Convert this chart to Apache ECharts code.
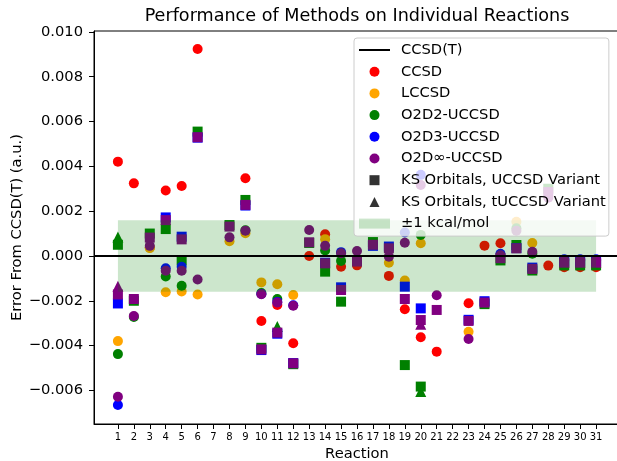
<!DOCTYPE html>
<html><head><meta charset="utf-8">
<script src="https://cdn.jsdelivr.net/npm/echarts@6/dist/echarts.min.js"></script>
<style>html,body{margin:0;padding:0;background:#fff}#c{width:617px;height:461px}</style>
</head><body><div id="c"></div>
<script>
const reactions = [1,2,3,4,5,6,7,8,9,10,11,12,13,14,15,16,17,18,19,20,21,22,23,24,25,26,27,28,29,30,31];
const yTicks = [-0.006,-0.004,-0.002,0,0.002,0.004,0.006,0.008,0.010];
const KCAL = 0.0015936;
const BAND_X = [1, 31];
const REF_LINE = 0;

// circles (canonical orbitals)
const ccsd   = [0.00421,0.00324,0.00038,0.00292,0.00312,0.00924,null,null,0.00347,-0.0029,-0.00219,-0.0039,0.0000,0.00097,-0.00048,-0.00042,null,-0.00089,-0.00238,-0.00363,-0.00427,null,-0.00211,0.00046,0.00057,null,null,-0.00043,-0.0005,-0.0005,-0.0005];
const lccsd  = [-0.0038,null,0.00035,-0.00162,-0.00159,-0.00172,null,0.00066,0.00101,-0.00118,-0.00126,-0.00174,null,0.00075,null,null,null,-0.0003,-0.0011,0.00057,null,null,-0.00338,null,null,0.00153,0.00058,null,null,null,null];
const o2d2   = [-0.00438,-0.00272,null,-0.00092,-0.00133,null,null,null,0.00115,-0.00165,-0.00192,null,null,0.00024,-0.00022,null,null,null,null,0.00094,null,null,null,null,null,0.00124,0.0001,null,null,null,null];
const o2d3   = [-0.00665,null,null,-0.00055,-0.00048,null,null,null,null,-0.0017,-0.00205,-0.0022,null,null,0.00017,null,null,null,0.00105,0.00362,null,null,null,null,0.0001,null,null,null,-0.00015,-0.00015,-0.00015];
const o2dinf = [-0.00628,-0.00268,0.00045,-0.00066,-0.00066,-0.00105,null,0.00083,0.00113,-0.00171,-0.00208,-0.00222,0.00116,0.00045,0.00012,0.00022,null,-0.00003,0.00059,0.00317,-0.00175,null,-0.00371,null,0.00003,0.00113,0.00019,0.0026,-0.0002,-0.0002,-0.0002];

// squares (KS orbitals, UCCSD variant)
const o2d2Sq   = [0.0005,-0.002,0.001,0.0012,-0.0002,0.00555,null,0.00138,0.0025,-0.0041,null,-0.00483,0.00058,-0.0007,-0.00204,null,0.00062,null,-0.00487,-0.00583,null,null,null,-0.00215,-0.0002,0.00049,-0.00065,0.003,-0.00042,-0.00042,-0.00042];
const o2d3Sq   = [-0.00212,null,null,0.00172,0.00086,0.00528,null,null,0.00225,-0.0042,-0.00347,-0.00478,null,-0.0003,-0.0014,null,0.00045,0.00042,-0.00137,-0.00234,null,null,-0.00285,-0.00202,null,0.00035,-0.00052,null,-0.00025,-0.00025,-0.00025];
const o2dinfSq = [-0.00172,-0.00192,0.00082,0.0016,0.00074,0.0053,null,0.00131,0.00228,-0.00417,-0.00342,-0.00479,0.00061,-0.00033,-0.00152,-0.00025,0.0005,0.00034,-0.00192,-0.00286,-0.00241,null,-0.0029,-0.00208,-0.0001,0.00034,-0.00058,0.00285,-0.0003,-0.0003,-0.0003];

// triangles (KS orbitals, tUCCSD variant)
const o2d2Tri   = [0.00085,null,null,null,null,null,null,null,null,null,-0.00315,null,null,null,null,null,null,null,null,-0.00605,null,null,null,null,null,null,null,null,null,null,null];
const o2dinfTri = [-0.00135,null,null,null,null,null,null,null,null,null,null,null,null,null,null,null,null,null,null,-0.00305,null,null,null,null,null,null,null,null,null,null,null];

const RED='#ff0000', ORANGE='#ffa500', GREEN='#008000', BLUE='#0000ff', PURPLE='#800080';
const FONT='DejaVu Sans';

function pts(vals){ const out=[]; vals.forEach((v,i)=>{ if(v!==null) out.push([reactions[i], v]); }); return out; }
function sc(name, vals, color, symbol, size){
  return {name, type:'scatter', data:pts(vals), symbol, symbolSize:size, z:2,
    itemStyle:{color, opacity:1}, emphasis:{disabled:true}, animation:false};
}

const X_MIN=-0.5, X_MAX=32.5;
const series = [
  sc('CCSD', ccsd, RED, 'circle', 10),
  sc('LCCSD', lccsd, ORANGE, 'circle', 10),
  sc('O2D2-UCCSD', o2d2, GREEN, 'circle', 10),
  sc('O2D2 KS', o2d2Sq, GREEN, 'rect', 10),
  sc('O2D2 KSt', o2d2Tri, GREEN, 'triangle', 11),
  sc('O2D3-UCCSD', o2d3, BLUE, 'circle', 10),
  sc('O2D3 KS', o2d3Sq, BLUE, 'rect', 10),
  sc('O2D∞-UCCSD', o2dinf, PURPLE, 'circle', 10),
  sc('O2D∞ KS', o2dinfSq, PURPLE, 'rect', 10),
  sc('O2D∞ KSt', o2dinfTri, PURPLE, 'triangle', 11),
  {name:'KS Orbitals, UCCSD Variant', type:'scatter', data:[], symbol:'rect', itemStyle:{color:'#000'}},
  {name:'KS Orbitals, tUCCSD Variant', type:'scatter', data:[], symbol:'triangle', itemStyle:{color:'#000'}},
  {name:'±1 kcal/mol', type:'custom', z:3, silent:true,
   itemStyle:{color:'rgba(0,128,0,0.2)'},
   data:[[BAND_X[0], -KCAL, BAND_X[1], KCAL]],
   encode:{x:[0,2], y:[1,3]},
   renderItem:function(params, api){
     const a = api.coord([api.value(0), api.value(3)]);
     const b = api.coord([api.value(2), api.value(1)]);
     return {type:'rect', shape:{x:a[0], y:a[1], width:b[0]-a[0], height:b[1]-a[1]}, style:{fill:'rgba(0,128,0,0.2)'}};
   }},
  {name:'CCSD(T)', type:'line', z:4, symbol:'none', silent:true,
   data:[[X_MIN, REF_LINE],[X_MAX, REF_LINE]],
   lineStyle:{color:'#000', width:2}, itemStyle:{color:'#000'}}
];

const chart = echarts.init(document.getElementById('c'), null, {renderer:'canvas'});
chart.setOption({
  animation:false,
  backgroundColor:'#fff',
  textStyle:{fontFamily:FONT},
  grid:{left:94, right:-3, top:31, bottom:37, show:true, borderColor:'#000', borderWidth:1, containLabel:false, outerBoundsMode:'none'},
  graphic:[{type:'text', x:357, y:16, z:10, style:{text:'Performance of Methods on Individual Reactions', font:'17.6px "DejaVu Sans"', fill:'#000', align:'center', verticalAlign:'middle'}}],
  xAxis:{type:'value', min:X_MIN, max:X_MAX, name:'Reaction', nameLocation:'middle', nameGap:23, nameMoveOverlap:false,
    nameTextStyle:{fontSize:14.7, color:'#000', fontFamily:FONT},
    splitLine:{show:false},
    axisLine:{show:true, onZero:false, lineStyle:{color:'#000', width:1}},
    axisTick:{show:true, length:5, customValues:reactions, lineStyle:{color:'#000'}},
    axisLabel:{customValues:reactions, margin:8, fontSize:10, color:'#000', fontFamily:FONT}},
  yAxis:{type:'value', min:-0.0075, max:0.01004, name:'Error From CCSD(T) (a.u.)', nameLocation:'middle', nameGap:69, nameRotate:90, nameMoveOverlap:false,
    nameTextStyle:{fontSize:14.7, color:'#000', fontFamily:FONT},
    splitLine:{show:false},
    axisLine:{show:true, onZero:false, lineStyle:{color:'#000', width:1}},
    axisTick:{show:true, length:5, customValues:yTicks, lineStyle:{color:'#000'}},
    axisLabel:{customValues:yTicks, margin:11, fontSize:14.7, color:'#000', fontFamily:FONT,
      formatter:function(v){ return (v < -1e-12 ? '\u2212' : '') + Math.abs(v).toFixed(3); }}},
  legend:{orient:'vertical', left:354, top:38, padding:[3.5,3,4,5], itemGap:4.7, itemWidth:31, itemHeight:10,
    symbolKeepAspect:true,
    backgroundColor:'rgba(255,255,255,0.8)', borderColor:'#cccccc', borderWidth:1, borderRadius:3,
    selectedMode:false, z:10,
    textStyle:{fontSize:14.7, color:'#000', fontFamily:FONT, lineHeight:17, padding:[0,0,0,6]},
    data:[
      {name:'CCSD(T)', icon:'path://M0,0H31V2H0Z', itemStyle:{color:'#000'}},
      'CCSD','LCCSD','O2D2-UCCSD','O2D3-UCCSD','O2D∞-UCCSD',
      {name:'KS Orbitals, UCCSD Variant', icon:'path://M0,0H9V9H0Z', itemStyle:{color:'#000'}},
      {name:'KS Orbitals, tUCCSD Variant', icon:'path://M5,0L10,10H0Z', itemStyle:{color:'#000'}},
      {name:'±1 kcal/mol', icon:'path://M0,0H31V10H0Z', itemStyle:{color:'rgba(0,128,0,0.2)'}}]},
  series:series
});
</script></body></html>
